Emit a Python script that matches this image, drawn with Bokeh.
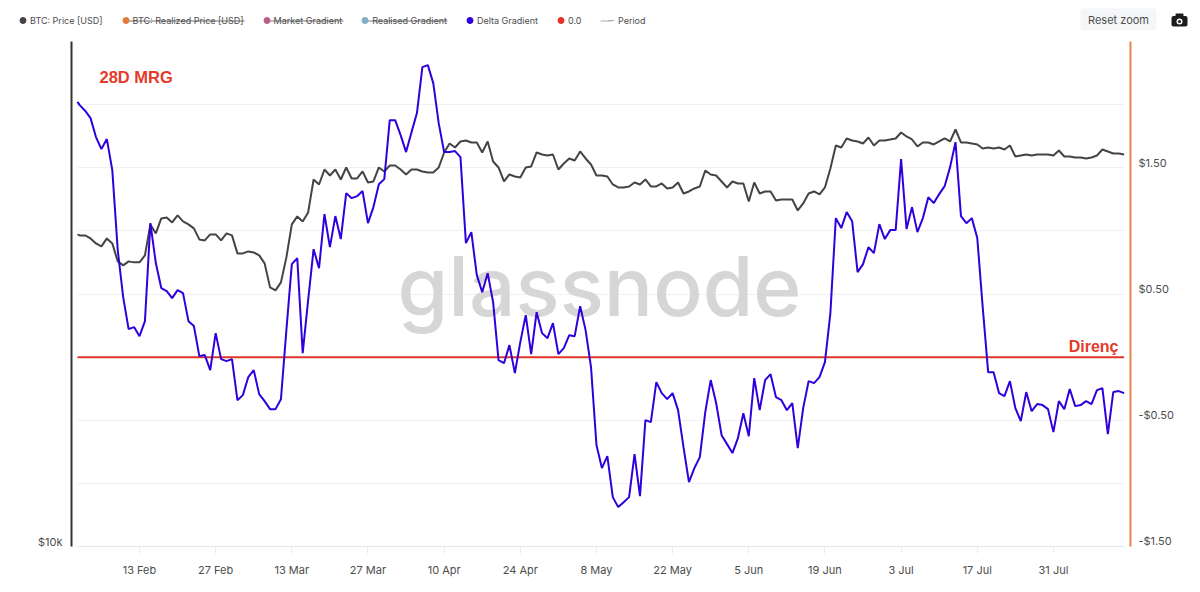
import pandas as pd
from bokeh.embed import file_html
from bokeh.layouts import column
from bokeh.resources import INLINE
from bokeh.plotting import figure
from bokeh.models import (BoxAnnotation, DatetimeTickFormatter, FixedTicker, Label, Legend,
                          LegendItem, LogAxis, LogScale, Range1d)

LEFT_EDGE_TIME = "2023-02-01 14:30"
FIRST_DAY = "2023-02-02"
price_usd = [
    24025, 23958, 23958, 23757, 23426, 23229, 23757, 23426, 22273, 22024, 22273, 22210, 22210, 22650, 24708, 24092,
    25127, 25198, 24847, 25340, 24917, 24708, 24433, 23690, 23624, 24025, 24025, 23624, 24092, 23958, 22777, 22777,
    22905, 22841, 22650, 22148, 20705, 20533, 20997, 22524, 24708, 25269, 24917, 25554, 28033, 27642, 28831, 28349,
    28831, 28033, 28993, 28112, 28112, 28670, 27798, 27876, 28993, 28670, 29156, 29156, 28831, 28429, 28831, 28831,
    28670, 28589, 28589, 28993, 30240, 31014, 30668, 31189, 31276, 31101, 31101, 30240, 31189, 29485, 28993, 27876,
    28429, 28270, 28191, 28993, 29075, 30240, 30071, 29986, 30071, 28831, 29320, 29735, 29568, 30325, 29735, 29238,
    28349, 28349, 28270, 27642, 27411, 27411, 27488, 27798, 27642, 28033, 27488, 27488, 27720, 27334, 27411, 27798,
    26953, 27105, 27334, 27488, 28750, 28429, 28349, 27876, 27411, 27876, 27720, 27720, 26355, 27798, 26953, 27105,
    27105, 26429, 26504, 26504, 26504, 25698, 26208, 26953, 27105, 26878, 27411, 28912, 30841, 30668, 31452, 31276,
    31189, 31014, 31541, 30841, 31276, 31276, 31364, 31452, 31987, 31630, 31364, 30754, 31101, 31101, 30927, 31189,
    31452, 31189, 32257, 31101, 31101, 31014, 30927, 30582, 30668, 30582, 30668, 30496, 30841, 29902, 29986, 30071,
    29986, 30071, 30071, 30071, 29986, 30411, 29902, 29902, 29818, 29818, 29735, 29818, 29986, 30496, 30325, 30155,
    30155, 30071,
]
delta_gradient = [
    2.022, 1.996, 1.952, 1.893, 1.743, 1.648, 1.727, 1.481, 0.848, 0.475, 0.222, 0.238, 0.166, 0.285, 1.061, 0.745,
    0.547, 0.523, 0.467, 0.531, 0.507, 0.285, 0.246, 0.008, 0.016, -0.103, 0.190, -0.016, -0.032, -0.016, -0.341, -0.301,
    -0.158, -0.103, -0.293, -0.349, -0.412, -0.412, -0.333, 0.214, 0.737, 0.784, 0.032, 0.451, 0.855, 0.705, 1.133, 0.871,
    1.117, 0.935, 1.299, 1.259, 1.275, 1.315, 1.061, 1.188, 1.370, 1.410, 1.877, 1.877, 1.758, 1.624, 1.782, 1.933,
    2.297, 2.313, 2.170, 1.853, 1.624, 1.624, 1.632, 1.584, 0.903, 0.990, 0.650, 0.515, 0.665, 0.436, -0.024, -0.048,
    0.095, -0.127, 0.119, 0.333, 0.024, 0.356, 0.190, 0.150, 0.269, 0.024, 0.071, 0.174, 0.166, 0.404, 0.214, -0.079,
    -0.697, -0.879, -0.784, -1.109, -1.188, -1.149, -1.109, -0.768, -1.101, -0.499, -0.515, -0.198, -0.285, -0.333, -0.285, -0.420,
    -0.713, -0.990, -0.879, -0.792, -0.436, -0.182, -0.364, -0.618, -0.689, -0.760, -0.642, -0.444, -0.626, -0.166, -0.420, -0.182,
    -0.135, -0.317, -0.341, -0.420, -0.364, -0.721, -0.404, -0.190, -0.206, -0.158, -0.040, 0.349, 1.101, 1.022, 1.149, 1.077,
    0.673, 0.737, 0.871, 0.824, 1.053, 0.935, 1.006, 1.006, 1.568, 1.014, 1.188, 0.990, 1.101, 1.267, 1.220, 1.291,
    1.354, 1.505, 1.703, 1.117, 1.061, 1.101, 0.943, 0.396, -0.119, -0.119, -0.285, -0.309, -0.190, -0.404, -0.507, -0.277,
    -0.428, -0.372, -0.380, -0.412, -0.594, -0.349, -0.412, -0.253, -0.388, -0.380, -0.349, -0.372, -0.261, -0.246, -0.610, -0.277,
    -0.269, -0.285,
]
x_tick_dates = ["2023-02-13", "2023-02-27", "2023-03-13", "2023-03-27", "2023-04-10", "2023-04-24", "2023-05-08",
                "2023-05-22", "2023-06-05", "2023-06-19", "2023-07-03", "2023-07-17", "2023-07-31"]
grid_values = [-1.5, -1.0, -0.5, 0.0, 0.5, 1.0, 1.5, 2.0, 2.5]
# tick labels sit just above their gridlines in the reference
right_label_at = {1.54: "$1.50", 0.54: "$0.50", -0.46: "-$0.50", -1.46: "-$1.50"}
left_label_at = {10141: "$10k"}

TXT = "#4d4d4d"
FONT = "Inter"
dates = [pd.Timestamp(LEFT_EDGE_TIME)] + list(pd.date_range(FIRST_DAY, periods=len(delta_gradient) - 1, freq="D"))
zero = [0.0] * len(dates)


def ms(t):
    return pd.Timestamp(t).timestamp() * 1000


plot_span = (ms("2023-02-01 14:30"), ms("2023-08-13 00:00"))

# ---------- main chart ----------
p = figure(width=1200, height=551, x_axis_type="datetime", y_axis_location="right",
           x_range=Range1d(pd.Timestamp("2023-01-31 12:00"), pd.Timestamp("2023-08-14 04:00")),
           y_range=Range1d(-1.5, 2.5), output_backend="svg", toolbar_location=None,
           min_border_left=71, min_border_right=70, min_border_top=0, min_border_bottom=46)
p.frame_align = False
p.outline_line_color = None
p.extra_y_scales = {"price": LogScale()}
p.extra_y_ranges = {"price": Range1d(10000, 41300)}

p.xgrid.visible = False
p.ygrid.ticker = FixedTicker(ticks=grid_values)
p.ygrid.cross_bounds = plot_span
p.ygrid.grid_line_color = "#f0f0f2"
p.ygrid.grid_line_width = 1

ax = p.xaxis[0]
ax.ticker = FixedTicker(ticks=[ms(d) for d in x_tick_dates])
ax.formatter = DatetimeTickFormatter(days="%-d %b", months="%-d %b", hours="%-d %b")
ax.bounds = plot_span
ax.axis_line_color = "#e6e6e6"
ax.major_tick_line_color = "#ececec"
ax.major_tick_out = 7
ax.major_tick_in = 0
ax.minor_tick_line_color = None
ax.major_label_standoff = 9
ax.major_label_text_font = FONT
ax.major_label_text_font_size = "11px"
ax.major_label_text_color = TXT

ar = p.yaxis[0]
ar.ticker = FixedTicker(ticks=list(right_label_at))
ar.major_label_overrides = right_label_at
ar.axis_line_color = "#e8854a"
ar.axis_line_width = 2
ar.major_tick_line_color = None
ar.minor_tick_line_color = None
ar.major_tick_out = 0
ar.major_tick_in = 0
ar.major_label_standoff = 8
ar.major_label_text_font = FONT
ar.major_label_text_font_size = "11px"
ar.major_label_text_color = TXT

al = LogAxis(y_range_name="price", ticker=FixedTicker(ticks=list(left_label_at)),
             major_label_overrides=left_label_at)
al.axis_line_color = "#333333"
al.axis_line_width = 2
al.major_tick_line_color = None
al.minor_tick_line_color = None
al.major_tick_out = 0
al.major_tick_in = 0
al.major_label_standoff = 9
al.major_label_text_font = FONT
al.major_label_text_font_size = "11px"
al.major_label_text_color = TXT
p.add_layout(al, "left")


def main_label(x, y, text, size, color, font=FONT, style="normal", align="left", baseline="middle", level="annotation"):
    p.add_layout(Label(x=x - 71, y=546 - y, x_units="screen", y_units="screen", text=text,
                       text_font=font, text_font_size=size, text_color=color, text_font_style=style,
                       text_align=align, text_baseline=baseline, level=level))


main_label(599, 286, "glassnode", "82px", "#d6d6d6", font="'Inter Medium', 'Inter'", align="center",
           baseline="alphabetic", level="underlay")

p.line(dates, zero, line_color="#e0352b", line_width=2)
p.line(dates, price_usd, y_range_name="price", line_color="#444444", line_width=2)
p.line(dates, delta_gradient, line_color="#2f00dd", line_width=2)

main_label(99, 76, "28D MRG", "16.5px", "#e53a2a", font="Liberation Sans", style="bold")
main_label(1118, 346, "Direnç", "16px", "#e53a2a", font="Liberation Sans", style="bold", align="right")

# ---------- header strip: legend, reset button, camera ----------
h = figure(width=1200, height=41, x_range=Range1d(0, 1200), y_range=Range1d(41, 0),
           x_axis_location=None, y_axis_location=None, output_backend="svg", toolbar_location=None,
           min_border_left=0, min_border_right=0, min_border_top=0, min_border_bottom=0)
h.frame_align = False
h.outline_line_color = None
h.grid.visible = False


def box(x0, y0, x1, y1, color, radius=0):
    h.add_layout(BoxAnnotation(left=x0, right=x1, top=41 - y0, bottom=41 - y1,
                               left_units="screen", right_units="screen", top_units="screen", bottom_units="screen",
                               fill_color=color, fill_alpha=1, line_color=None, border_radius=radius, editable=False))


# hidden series: legend entries only, no values on display
no_values = dict(x=[float("nan")], y=[float("nan")])
legend_spec = [("BTC: Price [USD]", "#444444", "circle"), ("BTC: Realized Price [USD]", "#e07b39", "circle"),
               ("Market Gradient", "#b85c8a", "circle"), ("Realised Gradient", "#7fb0c6", "circle"),
               ("Delta Gradient", "#2f00dd", "circle"), ("0.0", "#e8302a", "circle"), ("Period", "#aaaaaa", "dash")]
items = []
for name, color, marker in legend_spec:
    r = h.scatter(x="x", y="y", source=no_values, marker=marker, size=8, fill_color=color, line_color=color)
    items.append(LegendItem(label=name, renderers=[r]))
legend = Legend(items=items, orientation="horizontal", location=(15, 11), glyph_width=15, glyph_height=20,
                label_standoff=0, spacing=15, padding=0, margin=0, border_line_color=None,
                background_fill_alpha=0, label_text_font=FONT, label_text_font_size="9px",
                label_text_color=TXT, label_height=20)
h.add_layout(legend, "center")

box(125, 20, 244, 21, "#777777")
box(266, 20, 343, 21, "#777777")
box(365, 20, 447, 21, "#777777")
box(600, 20, 611, 21, "#aaaaaa")

box(1080, 8, 1156, 30, "#f5f6f8", radius=3)
h.add_layout(Label(x=1118, y=41 - 19, x_units="screen", y_units="screen", text="Reset zoom", text_font=FONT,
                   text_font_size="11px", text_color=TXT, text_align="center", text_baseline="middle"))
box(1171, 15.5, 1187, 26, "#1c1c1e", radius=2)
box(1175, 13, 1183, 16, "#1c1c1e", radius=1)
box(1176, 18, 1182, 24, "#ffffff", radius=3)
box(1177.5, 19.5, 1180.5, 22.5, "#1c1c1e", radius=2)

page = column(h, p, spacing=0)
open("out.html", "w").write(file_html(page, INLINE))
